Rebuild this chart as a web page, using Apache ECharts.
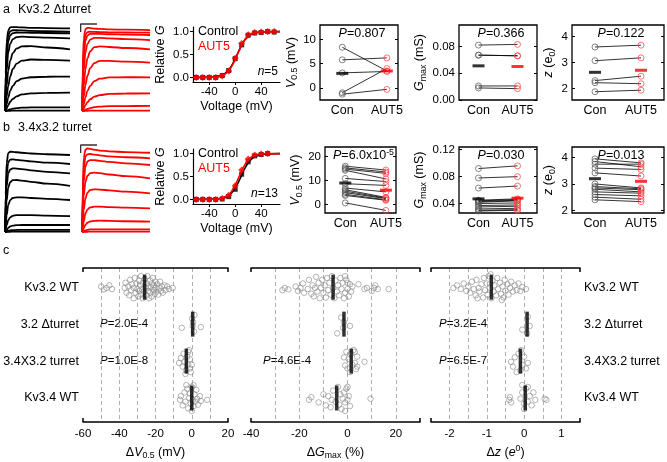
<!DOCTYPE html>
<html><head><meta charset="utf-8">
<script src="https://cdn.jsdelivr.net/npm/echarts@6/dist/echarts.min.js"></script>
<style>html,body{margin:0;padding:0;background:#fff}#c{width:667px;height:462px}</style>
</head><body><div id="c"></div>
<script>
const FONT = '"Liberation Sans", Arial, sans-serif';

// ---------------- DATA ----------------
// current traces (normalised current vs. time, arbitrary units)
const TRACE_T = [0, 1, 2.5, 5, 8, 12, 18, 26, 40, 65, 100];
const TRACES_A_CTRL = [
  [0, 0.45, 0.82, 0.96, 0.995, 1.0, 0.998, 0.995, 0.99, 0.988, 0.985],
  [0, 0.35, 0.72, 0.9, 0.95, 0.962, 0.962, 0.96, 0.955, 0.95, 0.944],
  [0, 0.28, 0.62, 0.83, 0.9, 0.928, 0.935, 0.934, 0.932, 0.929, 0.925],
  [0, 0.2, 0.48, 0.7, 0.8, 0.855, 0.88, 0.885, 0.88, 0.874, 0.865],
  [0, 0.12, 0.3, 0.48, 0.6, 0.69, 0.745, 0.77, 0.772, 0.756, 0.734],
  [0, 0.06, 0.17, 0.3, 0.41, 0.5, 0.565, 0.6, 0.613, 0.608, 0.599],
  [0, 0.03, 0.08, 0.16, 0.24, 0.3, 0.355, 0.385, 0.402, 0.408, 0.409],
  [0, 0.01, 0.03, 0.07, 0.11, 0.145, 0.175, 0.197, 0.21, 0.216, 0.218],
  [0, 0, 0.005, 0.012, 0.02, 0.027, 0.034, 0.039, 0.042, 0.044, 0.044],
  [0, 0, 0, 0.002, 0.003, 0.004, 0.005, 0.005, 0.005, 0.005, 0.005]
];
const TRACES_A_AUT5 = [
  [0, 0.5, 0.86, 0.975, 0.99, 0.988, 0.982, 0.977, 0.972, 0.968, 0.964],
  [0, 0.38, 0.75, 0.91, 0.94, 0.944, 0.942, 0.94, 0.937, 0.935, 0.933],
  [0, 0.3, 0.64, 0.84, 0.9, 0.918, 0.92, 0.918, 0.914, 0.91, 0.905],
  [0, 0.2, 0.48, 0.7, 0.8, 0.85, 0.87, 0.872, 0.865, 0.856, 0.845],
  [0, 0.12, 0.3, 0.5, 0.63, 0.71, 0.76, 0.77, 0.762, 0.75, 0.734],
  [0, 0.06, 0.17, 0.31, 0.42, 0.51, 0.57, 0.597, 0.597, 0.587, 0.575],
  [0, 0.03, 0.08, 0.16, 0.24, 0.3, 0.355, 0.385, 0.4, 0.402, 0.401],
  [0, 0.01, 0.03, 0.07, 0.105, 0.14, 0.17, 0.19, 0.203, 0.208, 0.21],
  [0, 0, 0.006, 0.015, 0.025, 0.035, 0.045, 0.052, 0.057, 0.059, 0.06],
  [0, 0, 0, 0.002, 0.003, 0.004, 0.005, 0.005, 0.005, 0.005, 0.005]
];
const TRACES_B_CTRL = [
  [0, 0.45, 0.82, 0.94, 0.956, 0.955, 0.95, 0.944, 0.935, 0.926, 0.917],
  [0, 0.33, 0.68, 0.83, 0.862, 0.865, 0.86, 0.852, 0.84, 0.826, 0.81],
  [0, 0.24, 0.54, 0.7, 0.745, 0.758, 0.755, 0.748, 0.735, 0.717, 0.698],
  [0, 0.15, 0.37, 0.53, 0.595, 0.618, 0.619, 0.612, 0.598, 0.575, 0.548],
  [0, 0.08, 0.2, 0.32, 0.38, 0.405, 0.413, 0.412, 0.405, 0.395, 0.381],
  [0, 0.03, 0.08, 0.14, 0.175, 0.193, 0.2, 0.202, 0.2, 0.196, 0.19],
  [0, 0.01, 0.025, 0.05, 0.066, 0.076, 0.081, 0.083, 0.083, 0.083, 0.083],
  [0, 0.003, 0.008, 0.015, 0.019, 0.022, 0.024, 0.024, 0.024, 0.024, 0.024],
  [0, 0, 0, 0.002, 0.003, 0.004, 0.005, 0.005, 0.005, 0.005, 0.005]
];
const TRACES_B_AUT5 = [
  [0, 0.5, 0.88, 0.98, 0.996, 0.99, 0.98, 0.97, 0.96, 0.952, 0.944],
  [0, 0.38, 0.75, 0.9, 0.925, 0.929, 0.922, 0.913, 0.9, 0.89, 0.877],
  [0, 0.28, 0.6, 0.78, 0.84, 0.855, 0.855, 0.848, 0.835, 0.818, 0.798],
  [0, 0.18, 0.43, 0.6, 0.67, 0.7, 0.706, 0.7, 0.685, 0.665, 0.639],
  [0, 0.1, 0.26, 0.4, 0.47, 0.5, 0.508, 0.505, 0.495, 0.48, 0.46],
  [0, 0.05, 0.13, 0.22, 0.27, 0.293, 0.302, 0.302, 0.297, 0.29, 0.282],
  [0, 0.015, 0.045, 0.085, 0.11, 0.125, 0.133, 0.135, 0.133, 0.128, 0.123],
  [0, 0.003, 0.01, 0.02, 0.026, 0.03, 0.032, 0.032, 0.032, 0.032, 0.032],
  [0, 0, 0, 0.002, 0.003, 0.004, 0.005, 0.005, 0.005, 0.005, 0.005]
];
const SCALE_BAR = { t0: -2, t1: 22, top: 1.036, drop: 0.095 };

// G-V curves
const GV_VOLT_A = [-60, -50, -40, -30, -20, -10, 0, 10, 20, 30, 40, 50, 60];
const GV_A_CTRL = [0, 0, 0, 0, 0.04, 0.15, 0.41, 0.71, 0.92, 0.97, 0.98, 1.0, 0.99];
const GV_A_AUT5 = [0, 0, 0, 0, 0.03, 0.14, 0.42, 0.74, 0.93, 0.98, 0.99, 1.0, 1.0];
const GV_VOLT_B = [-60, -50, -40, -30, -20, -10, 0, 10, 20, 30, 40, 50];
const GV_B_CTRL = [0, 0, 0, 0, 0.01, 0.06, 0.22, 0.55, 0.82, 0.95, 0.98, 1.0];
const GV_B_AUT5 = [0, 0, 0, 0, 0.02, 0.09, 0.3, 0.64, 0.88, 0.97, 0.99, 1.0];
const FIT_V = [-65, -40, -25, -15, -10, -5, 0, 5, 10, 15, 20, 25, 30, 40, 50, 69];
const FIT_A_CTRL = [0, 0.005, 0.03, 0.095, 0.165, 0.27, 0.41, 0.56, 0.705, 0.82, 0.89, 0.94, 0.967, 0.99, 0.997, 1.0];
const FIT_A_AUT5 = [0, 0.003, 0.022, 0.08, 0.15, 0.25, 0.39, 0.55, 0.705, 0.83, 0.9, 0.945, 0.972, 0.993, 0.998, 1.0];
const FIT_B_CTRL = [0, 0.002, 0.014, 0.047, 0.085, 0.15, 0.245, 0.377, 0.53, 0.68, 0.8, 0.88, 0.93, 0.98, 0.994, 1.0];
const FIT_B_AUT5 = [0, 0.002, 0.016, 0.057, 0.1, 0.19, 0.31, 0.466, 0.63, 0.76, 0.87, 0.925, 0.96, 0.99, 0.997, 1.0];

// paired comparisons
const PAIR_LABELS = ['Con', 'AUT5'];
const A_V05_CON = [8.4, 5.8, 3.1, -1.0, -1.3];
const A_V05_AUT = [3.5, 6.2, 3.4, 4.0, -0.3];
const A_V05_MEAN = [3.0, 3.5];
const A_GMAX_CON = [0.082, 0.067, 0.067, 0.021, 0.018];
const A_GMAX_AUT = [0.083, 0.066, 0.066, 0.021, 0.017];
const A_GMAX_MEAN = [0.051, 0.050];
const A_Z_CON = [3.6, 3.07, 2.3, 2.22, 1.87];
const A_Z_AUT = [3.67, 3.18, 2.47, 2.18, 1.93];
const A_Z_MEAN = [2.62, 2.7];
const B_V05_CON = [16, 15.3, 14.8, 14.3, 10.9, 8.7, 6.9, 6.2, 5.6, 5.0, 4.3, 3.8, 0.7];
const B_V05_AUT = [14.4, 13.6, 13.0, 10.7, 9.6, 8.0, 5.3, 3.0, 2.7, 2.5, 2.0, 1.8, -2.4];
const B_V05_MEAN = [9.0, 6.0];
const B_GMAX_CON = [0.092, 0.078, 0.063, 0.045, 0.044, 0.043, 0.042, 0.040, 0.037, 0.035, 0.032, 0.030, 0.029];
const B_GMAX_AUT = [0.096, 0.080, 0.066, 0.047, 0.046, 0.045, 0.044, 0.041, 0.038, 0.036, 0.033, 0.031, 0.030];
const B_GMAX_MEAN = [0.047, 0.048];
const B_Z_CON = [3.95, 3.85, 3.75, 3.6, 3.42, 3.0, 2.9, 2.85, 2.8, 2.7, 2.6, 2.5, 2.4];
const B_Z_AUT = [3.8, 3.65, 3.75, 3.55, 3.3, 2.85, 2.82, 2.78, 2.7, 2.65, 2.55, 2.42, 2.33];
const B_Z_MEAN = [3.2, 3.1];

// panel c : [value, jitter within row]
const C_ROWS = ['Kv3.2 WT', '3.2 \u0394turret', '3.4X3.2 turret', 'Kv3.4 WT'];
const C_DV05 = [
  [[-50,-0.02],[-48.5,0.06],[-47,0.02],[-45.5,-0.05],[-44,0.05],[-37,0.02],[-36.5,-0.12],[-36,0.15],[-35,-0.02],[-34.5,0.22],[-34,-0.2],[-33.5,0.08],[-33,-0.08],[-32,0.3],[-32,0.02],[-31.5,-0.25],[-31,0.15],[-30.5,-0.1],[-30,0.05],[-29.5,0.25],[-29,-0.18],[-29,0.1],[-28.5,-0.05],[-28,0.2],[-28,-0.3],[-27.5,0.05],[-27,-0.12],[-27,0.3],[-26.5,0.12],[-26,-0.22],[-25.5,0.02],[-25,0.22],[-25,-0.1],[-24.5,-0.3],[-24,0.1],[-24,-0.02],[-23.5,0.3],[-23,-0.18],[-23,0.15],[-22.5,0],[-22,-0.1],[-22,0.25],[-21.5,-0.25],[-21,0.08],[-21,-0.05],[-20.5,0.18],[-20,-0.15],[-20,0.02],[-19.5,0.12],[-19,-0.08],[-18.5,0.2],[-18,0.02],[-17.5,-0.15],[-17,0.1],[-16.5,-0.02],[-16,0.15],[-15,-0.05],[-14.5,0.08],[-13.5,-0.02],[-12.5,0.05],[-10.5,0.02]],
  [[-5.5,0.1],[0.2,-0.15],[0.8,-0.05],[1.2,0.2],[0.5,0.05],[1.5,-0.25],[5,0.08]],
  [[-7,0.05],[-6,-0.08],[-5,0.15],[-4.5,-0.2],[-4,0.02],[-3,0.25],[-2.5,-0.12],[-2,0.1],[-1.5,-0.3],[-1,0.2],[-1,-0.05],[-0.5,0.3],[0,0.1],[-2,-0.25],[-3.5,0.35]],
  [[-6.5,0.05],[-6,-0.05],[-5,0.2],[-4,-0.15],[-3.5,0.1],[-2.5,-0.25],[-2,0.28],[-1.5,0],[-1,-0.12],[-0.5,0.15],[0,-0.3],[0.5,0.05],[1,0.22],[1.5,-0.1],[2,0.1],[2.5,-0.22],[3,0.02],[3.5,0.18],[4.5,-0.05],[5,0.08],[8.5,0.05],[-3,-0.35],[1,-0.35],[0,0.35]]
];
const C_DV05_MEAN = [-26, 0.5, -3, 0];
const C_DGMAX = [
  [[-27,0.08],[-26,0.02],[-24.5,0.06],[-21.5,-0.02],[-20.5,0.1],[-19.5,0.02],[-18.5,-0.1],[-18,0.15],[-16.5,0.05],[-16,-0.2],[-15,0.18],[-14.5,-0.05],[-14,0.25],[-13.5,0.02],[-13,-0.28],[-12.5,0.12],[-12,-0.12],[-11.5,0.3],[-11,0.02],[-10.5,-0.2],[-10,0.15],[-9.5,-0.05],[-9,0.28],[-8.5,-0.25],[-8,0.08],[-7.5,-0.12],[-7,0.2],[-6.5,-0.3],[-6,0.02],[-5.5,0.3],[-5,-0.18],[-4.5,0.12],[-4,-0.05],[-3.5,0.22],[-3,-0.25],[-2.5,0.05],[-2,-0.12],[-1.5,0.3],[-1,0.15],[-0.5,-0.2],[0,0.05],[0.5,0.25],[1,-0.08],[1.5,0.12],[2,-0.02],[-1,-0.3],[0,-0.12],[4.5,-0.08],[7,0.05],[8,0.02],[10,0.1],[11,0.02],[11.5,-0.05],[12.5,0.05],[17,0.05]],
  [[-2.7,-0.18],[1,0.05],[-4.3,0.25],[-1.5,-0.05],[-1.8,0.1]],
  [[-1.5,-0.1],[-1,0.12],[-0.5,-0.25],[0,0.2],[0.5,-0.05],[1,0.3],[1.5,-0.2],[2,0.1],[2.5,-0.3],[3,0.05],[3.5,0.22],[4,-0.12],[3,-0.25],[7,0.02],[4,0.15]],
  [[-16,0.05],[-15,-0.02],[-12,0.12],[-10,-0.1],[-9,0.2],[-8,-0.05],[-7,0.25],[-6.5,0.05],[-6,-0.2],[-5,0.1],[-4,-0.3],[-3.5,0.18],[-3,-0.1],[-2.5,0.3],[-2,0.02],[-1.5,-0.15],[-1,0.12],[-0.5,-0.25],[0,0.05],[0.5,-0.05],[1,0.22],[-1,0.35],[0,-0.3],[9.5,0.02]]
];
const C_DGMAX_MEAN = [-6, -1.5, 1.5, -4.5];
const C_DZ = [
  [[-1.9,0.02],[-1.8,-0.05],[-1.7,0.05],[-1.62,-0.1],[-1.55,0.1],[-1.5,-0.02],[-1.45,0.15],[-1.4,-0.15],[-1.35,0.05],[-1.3,0.22],[-1.28,-0.2],[-1.22,0.02],[-1.2,0.12],[-1.15,-0.08],[-1.1,0.28],[-1.08,-0.25],[-1.05,0.08],[-1.0,-0.1],[-0.98,0.2],[-0.95,-0.3],[-0.92,0.02],[-0.88,0.3],[-0.85,-0.18],[-0.82,0.12],[-0.8,-0.05],[-0.75,0.22],[-0.72,-0.25],[-0.7,0.05],[-0.65,-0.12],[-0.62,0.18],[-0.58,-0.02],[-0.55,0.28],[-0.52,-0.2],[-0.5,0.1],[-0.45,-0.08],[-0.42,0.2],[-0.38,0.02],[-0.35,-0.15],[-0.3,0.12],[-0.25,-0.05],[-0.2,0.08],[-0.15,-0.1],[-0.1,0.1],[-0.05,0],[0.05,0.05],[-1.25,0.3],[-0.6,0.35],[-0.9,-0.35]],
  [[0.1,-0.2],[0.15,0.05],[-0.05,0.15],[0.08,0.25]],
  [[-0.35,0.02],[-0.3,0.15],[-0.25,-0.1],[-0.15,-0.2],[-0.1,0.25],[-0.05,0.1],[0,-0.12],[0.05,0.2],[0.1,0.05],[-0.2,0.3],[-0.08,-0.3]],
  [[-0.4,0.05],[-0.38,-0.02],[-0.35,0.12],[-0.1,0.02],[-0.05,-0.15],[0,0.15],[0.05,-0.25],[0.1,0.1],[0.15,-0.05],[0.2,0.2],[0.25,-0.15],[0.3,0.05],[0.1,-0.3],[0.55,0.02],[0.6,0.05],[0,0.3],[-0.05,-0.35]]
];
const C_DZ_MEAN = [-0.88, 0.08, -0.1, 0.03];

// ---------------- BUILD ----------------
const RED = '#ff0000';
const grid = [], xAxis = [], yAxis = [], series = [], graphic = [];
const G = g => { grid.push(g); return grid.length - 1; };
const fixLine = o => { o.axisLine = Object.assign({ onZero: false }, o.axisLine || {}); return o; };
const X = o => { xAxis.push(fixLine(o)); return xAxis.length - 1; };
const Y = o => { yAxis.push(fixLine(o)); return yAxis.length - 1; };
const rich = (fs) => ({
  t: { fontSize: fs, fontFamily: FONT, color: '#000', lineHeight: fs + 4 },
  i: { fontSize: fs, fontFamily: FONT, color: '#000', fontStyle: 'italic', lineHeight: fs + 4 },
  sub: { fontSize: fs * 0.7, fontFamily: FONT, color: '#000', verticalAlign: 'bottom', lineHeight: fs + 4 },
  sup: { fontSize: fs * 0.7, fontFamily: FONT, color: '#000', verticalAlign: 'top', lineHeight: fs + 4 }
});
const lbl = (fs) => ({ fontSize: fs, fontFamily: FONT, color: '#000' });
function text(x, y, str, fs, opts) {
  graphic.push({ type: 'text', x, y, silent: true, style: Object.assign({ text: str, fontSize: fs, fontFamily: FONT, fill: '#000', verticalAlign: 'middle', align: 'left', rich: rich(fs) }, opts || {}) });
}

function tracePanel(left, top, width, traces, color, withBar) {
  const gi = G({ left, top, width, height: 91 });
  const xi = X({ gridIndex: gi, type: 'value', min: withBar ? -3 : 0, max: 100, show: false });
  const yi = Y({ gridIndex: gi, type: 'value', min: -0.024, max: 1.06, show: false });
  traces.forEach(tr => series.push({ type: 'line', xAxisIndex: xi, yAxisIndex: yi, symbol: 'none', smooth: 0.35, smoothMonotone: 'x', silent: true,
    data: TRACE_T.map((t, i) => [t, tr[i]]), lineStyle: { color, width: 1.8 } }));
  if (withBar) {
    series.push({ type: 'line', xAxisIndex: xi, yAxisIndex: yi, symbol: 'none', silent: true,
      data: [[SCALE_BAR.t1, SCALE_BAR.top], [SCALE_BAR.t0, SCALE_BAR.top], [SCALE_BAR.t0, SCALE_BAR.top - SCALE_BAR.drop]],
      lineStyle: { color: '#333', width: 1.3 } });
  }
}

function gvPanel(top, volts, ctrl, aut, fitC, fitA, nText) {
  const gi = G({ left: 193, top, width: 87, height: 55 });
  const xi = X({ gridIndex: gi, type: 'value', min: -65, max: 69,
    axisLine: { lineStyle: { color: '#000', width: 1.2 } },
    axisTick: { customValues: [-40, 0, 40], length: 3, lineStyle: { color: '#000' } },
    axisLabel: Object.assign({ customValues: [-40, 0, 40], margin: 4 }, lbl(11.5)),
    splitLine: { show: false },
    name: 'Voltage (mV)', nameLocation: 'middle', nameGap: 18, nameTextStyle: lbl(12.5) });
  const yi = Y({ gridIndex: gi, type: 'value', min: -0.1, max: 1.1,
    axisLine: { show: true, lineStyle: { color: '#000', width: 1.2 } },
    axisTick: { show: true, customValues: [0, 0.5, 1], length: 3, lineStyle: { color: '#000' } },
    axisLabel: Object.assign({ customValues: [0, 0.5, 1], formatter: v => v.toFixed(1), margin: 4 }, lbl(11.5)),
    splitLine: { show: false },
    name: '{t|Relative }{i|G}', nameLocation: 'middle', nameGap: 24, nameRotate: 90, nameTextStyle: { rich: rich(12.5) } });
  const fitData = (arr) => FIT_V.map((v, i) => [v, arr[i]]);
  series.push({ type: 'line', xAxisIndex: xi, yAxisIndex: yi, symbol: 'none', smooth: 0.4, data: fitData(fitC), lineStyle: { color: '#000', width: 1.6 }, silent: true });
  series.push({ type: 'scatter', xAxisIndex: xi, yAxisIndex: yi, symbol: 'rect', symbolSize: 5, data: volts.map((v, i) => [v, ctrl[i]]), itemStyle: { color: '#000' }, silent: true });
  series.push({ type: 'line', xAxisIndex: xi, yAxisIndex: yi, symbol: 'none', smooth: 0.4, data: fitData(fitA), lineStyle: { color: RED, width: 1.6 }, silent: true, z: 3 });
  series.push({ type: 'scatter', xAxisIndex: xi, yAxisIndex: yi, symbol: 'diamond', symbolSize: 7, data: volts.map((v, i) => [v, aut[i]]), itemStyle: { color: RED }, silent: true, z: 4 });
  text(198, top + 5, 'Control', 12.5);
  text(198, top + 20, 'AUT5', 12.5, { fill: RED });
  text(278, top + 45, '{i|n}{t|=' + nText + '}', 12, { align: 'right' });
}

function pairPanel(o) {
  const gi = G({ left: o.left, top: o.top, width: o.width, height: o.height, show: true, borderColor: '#000', borderWidth: 1.3 });
  const xi = X({ gridIndex: gi, type: 'value', min: -0.5, max: o.xmax,
    axisLine: { show: false }, axisTick: { show: false }, splitLine: { show: false },
    axisLabel: Object.assign({ customValues: [0, 1], formatter: v => PAIR_LABELS[Math.round(v)], margin: 4 }, lbl(12.5)) });
  const yi = Y({ gridIndex: gi, type: 'value', min: o.ymin, max: o.ymax,
    axisLine: { show: false }, splitLine: { show: false },
    axisTick: { show: true, inside: true, length: 3, customValues: o.ticks, lineStyle: { color: '#000' } },
    axisLabel: Object.assign({ customValues: o.ticks, formatter: o.fmt, margin: 4 }, lbl(11.5)),
    name: o.name, nameLocation: 'middle', nameGap: o.nameGap, nameRotate: 90, nameTextStyle: { rich: rich(12.5) } });
  Y({ gridIndex: gi, type: 'value', position: 'right', min: o.ymin, max: o.ymax,
    axisLine: { show: false }, splitLine: { show: false }, axisLabel: { show: false },
    axisTick: { show: true, inside: true, length: 3, customValues: o.ticks, lineStyle: { color: '#000' } } });
  o.con.forEach((c, i) => series.push({ type: 'line', xAxisIndex: xi, yAxisIndex: yi, symbol: 'none', silent: true,
    data: [[0, c], [1, o.aut[i]]], lineStyle: { color: '#000', width: 0.8 }, z: 2 }));
  const circ = (col) => ({ color: 'rgba(255,255,255,0)', borderColor: col, borderWidth: 0.9 });
  series.push({ type: 'scatter', xAxisIndex: xi, yAxisIndex: yi, symbol: 'circle', symbolSize: 6, silent: true, z: 3,
    data: o.con.map(v => [0, v]), itemStyle: circ('#555') });
  series.push({ type: 'scatter', xAxisIndex: xi, yAxisIndex: yi, symbol: 'circle', symbolSize: 6, silent: true, z: 3,
    data: o.aut.map(v => [1, v]), itemStyle: circ('#ff4040') });
  series.push({ type: 'scatter', xAxisIndex: xi, yAxisIndex: yi, symbol: 'rect', symbolSize: [12, 3], silent: true, z: 4,
    data: [{ value: [0, o.mean[0]], itemStyle: { color: '#000' } }, { value: [1, o.mean[1]], itemStyle: { color: RED } }] });
  text(o.left + o.width / 2 + 3, o.top + 9, o.p, 12.5, { align: 'center' });
}

const NAME_V05 = '{i|V}{sub|0.5}{t| (mV)}';
const NAME_GMAX = '{i|G}{sub|max}{t| (mS)}';
const NAME_Z = '{i|z}{t| (e}{sub|0}{t|)}';

function cPanel(o) {
  const gi = G({ left: o.left, top: 268, width: o.width, height: 154 });
  const xi = X({ gridIndex: gi, type: 'value', min: o.min, max: o.max, interval: o.interval,
    axisLine: { lineStyle: { color: '#000', width: 1.5 } }, axisTick: { show: false },
    axisLabel: Object.assign({ formatter: o.fmt, margin: 6 }, lbl(11.5)),
    splitLine: { show: true, showMinLine: false, showMaxLine: false, lineStyle: { type: [4, 3], color: '#9a9a9a', width: 0.8 } },
    name: o.name, nameLocation: 'middle', nameGap: 22, nameTextStyle: { rich: rich(12.5) } });
  X({ gridIndex: gi, type: 'value', position: 'top', min: o.min, max: o.max,
    axisLine: { lineStyle: { color: '#000', width: 1.5 } }, axisLabel: { show: false }, splitLine: { show: false },
    axisTick: { show: true, inside: true, length: 4, customValues: [o.min, o.max], lineStyle: { color: '#000', width: 1.5 } } });
  X({ gridIndex: gi, type: 'value', position: 'bottom', min: o.min, max: o.max,
    axisLine: { show: false }, axisLabel: { show: false }, splitLine: { show: false },
    axisTick: { show: true, inside: true, length: 4, customValues: [o.min, o.max], lineStyle: { color: '#000', width: 1.5 } } });
  const yi = Y({ gridIndex: gi, type: 'value', inverse: true, min: -0.52, max: 3.65, position: o.catPos || 'left',
    axisLine: { show: false }, axisTick: { show: false }, splitLine: { show: false },
    axisLabel: Object.assign({ show: !!o.catPos, customValues: [0, 1, 2, 3], formatter: v => C_ROWS[Math.round(v)], margin: 4 }, lbl(12.5)) });
  o.rows.forEach((row, r) => {
    series.push({ type: 'scatter', xAxisIndex: xi, yAxisIndex: yi, symbol: 'circle', symbolSize: 5.5, silent: true, z: 2,
      data: row.map(d => [d[0], r + d[1]]), itemStyle: { color: 'rgba(255,255,255,0)', borderColor: '#8a8a8a', borderWidth: 0.8 } });
  });
  series.push({ type: 'scatter', xAxisIndex: xi, yAxisIndex: yi, symbol: 'rect', symbolSize: [3.5, 25], silent: true, z: 4,
    data: o.means.map((m, r) => [m, r]), itemStyle: { color: '#000' } });
}

// ---- panel a ----
text(3, 10, 'a', 12.5);
text(18, 10, 'Kv3.2 \u0394turret', 12.5);
tracePanel(5, 22, 65, TRACES_A_CTRL, '#000', false);
tracePanel(80, 22, 70, TRACES_A_AUT5, RED, true);
gvPanel(27, GV_VOLT_A, GV_A_CTRL, GV_A_AUT5, FIT_A_CTRL, FIT_A_AUT5, '5');
pairPanel({ left: 320, top: 25, width: 78, height: 75, xmax: 1.25, ymin: -2.5, ymax: 13, ticks: [0, 5, 10], fmt: v => String(v),
  name: NAME_V05, nameGap: 19, con: A_V05_CON, aut: A_V05_AUT, mean: A_V05_MEAN, p: '{i|P}{t|=0.807}' });
pairPanel({ left: 459, top: 25, width: 78, height: 75, xmax: 1.5, ymin: 0, ymax: 0.112, ticks: [0, 0.04, 0.08], fmt: v => v.toFixed(2),
  name: NAME_GMAX, nameGap: 31, con: A_GMAX_CON, aut: A_GMAX_AUT, mean: A_GMAX_MEAN, p: '{i|P}{t|=0.366}' });
pairPanel({ left: 572, top: 25, width: 92, height: 75, xmax: 1.5, ymin: 1.55, ymax: 4.45, ticks: [2, 3, 4], fmt: v => String(v),
  name: NAME_Z, nameGap: 15, con: A_Z_CON, aut: A_Z_AUT, mean: A_Z_MEAN, p: '{i|P}{t|=0.122}' });

// ---- panel b ----
text(3, 128, 'b', 12.5);
text(18, 128, '3.4x3.2 turret', 12.5);
tracePanel(5, 143, 65, TRACES_B_CTRL, '#000', false);
tracePanel(80, 143, 70, TRACES_B_AUT5, RED, true);
gvPanel(149, GV_VOLT_B, GV_B_CTRL, GV_B_AUT5, FIT_B_CTRL, FIT_B_AUT5, '13');
pairPanel({ left: 325, top: 147, width: 71, height: 66, xmax: 1.25, ymin: -3.5, ymax: 24, ticks: [0, 10, 20], fmt: v => String(v),
  name: NAME_V05, nameGap: 21, con: B_V05_CON, aut: B_V05_AUT, mean: B_V05_MEAN, p: '{i|P}{t|=6.0x10}{sup|-5}' });
pairPanel({ left: 459, top: 147, width: 78, height: 66, xmax: 1.5, ymin: 0.026, ymax: 0.124, ticks: [0.04, 0.08, 0.12], fmt: v => v.toFixed(2),
  name: NAME_GMAX, nameGap: 31, con: B_GMAX_CON, aut: B_GMAX_AUT, mean: B_GMAX_MEAN, p: '{i|P}{t|=0.030}' });
pairPanel({ left: 572, top: 147, width: 92, height: 66, xmax: 1.5, ymin: 1.9, ymax: 4.4, ticks: [2, 3, 4], fmt: v => String(v),
  name: NAME_Z, nameGap: 15, con: B_Z_CON, aut: B_Z_AUT, mean: B_Z_MEAN, p: '{i|P}{t|=0.013}' });

// ---- panel c ----
text(3, 251, 'c', 12.5);
cPanel({ left: 83, width: 145, min: -60, max: 20, interval: 10, fmt: v => (Math.round(v) % 20 === 0 ? String(v) : ''),
  name: '{t|\u0394}{i|V}{sub|0.5}{t| (mV)}', rows: C_DV05, means: C_DV05_MEAN, catPos: 'left' });
cPanel({ left: 251, width: 169, min: -40, max: 30, interval: 10, fmt: v => (Math.round(v) % 20 === 0 ? String(v) : ''),
  name: '{t|\u0394}{i|G}{sub|max}{t| (%)}', rows: C_DGMAX, means: C_DGMAX_MEAN });
cPanel({ left: 431, width: 149, min: -2.5, max: 1.5, interval: 0.5, fmt: v => (v % 1 === 0 ? String(v) : ''),
  name: '{t|\u0394}{i|z}{t| (}{i|e}{sup|0}{t|)}', rows: C_DZ, means: C_DZ_MEAN, catPos: 'right' });
text(100, 324, '{i|P}{t|=2.0E-4}', 11.5);
text(100, 361, '{i|P}{t|=1.0E-8}', 11.5);
text(263, 361, '{i|P}{t|=4.6E-4}', 11.5);
text(439, 324, '{i|P}{t|=3.2E-4}', 11.5);
text(439, 361, '{i|P}{t|=6.5E-7}', 11.5);

const chart = echarts.init(document.getElementById('c'), null, { renderer: 'canvas' });
chart.setOption({ animation: false, backgroundColor: '#fff', textStyle: { fontFamily: FONT }, grid, xAxis, yAxis, series, graphic });
</script></body></html>
